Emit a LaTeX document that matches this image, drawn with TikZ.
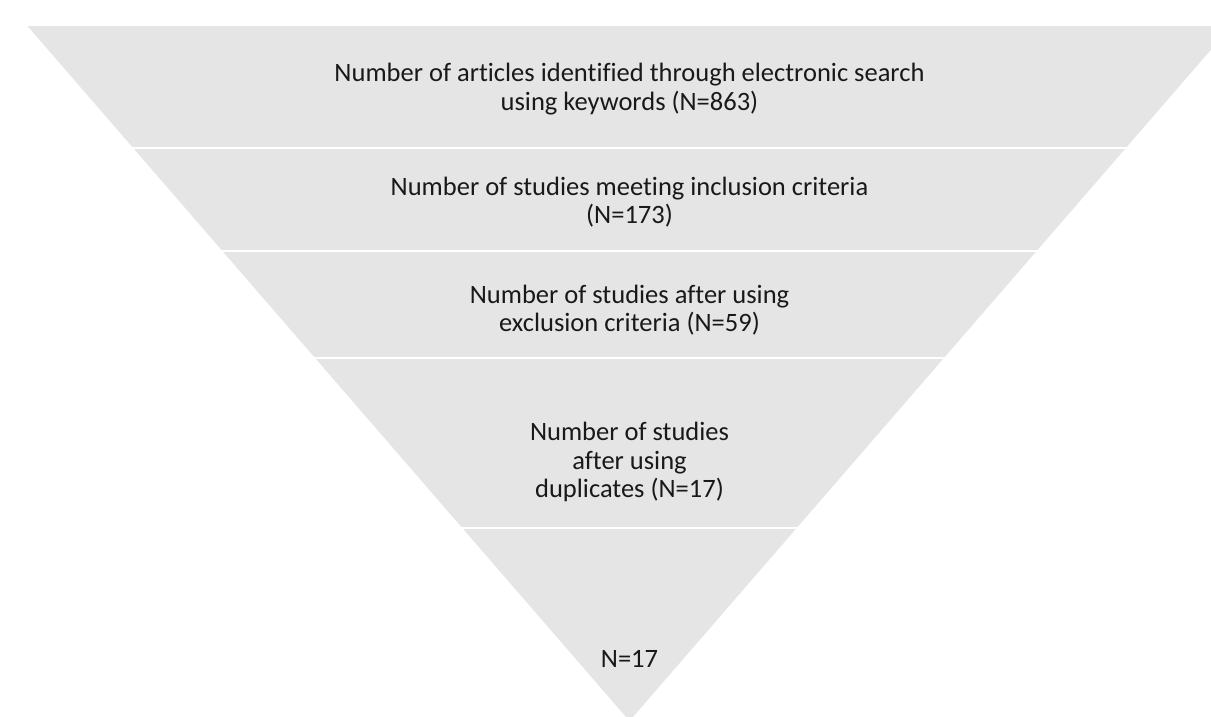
\documentclass[tikz,border=0pt]{standalone}
\usepackage{fontspec}
\setmainfont{Carlito}[Ligatures=NoCommon]
\definecolor{funnelgray}{RGB}{229,229,229}
\begin{document}
\begin{tikzpicture}
        [x=1pt, y=-1pt,
        band/.style={fill=funnelgray},
        bandgap/.style={draw=white, line width=1.5},
        bandtext/.style={align=center, text=black!90, font=\fontsize{26.5}{28.5}\selectfont}]

        \useasboundingbox (0,0) rectangle (1211,716);
        \clip (0,0) rectangle (1211,716);

        \fill [band] (27.5,26) -- (1231.5,26) -- (629.5,721) -- cycle;
        \foreach \y in {148,251,358,528}
            \draw [bandgap] (0,\y) -- (1211,\y);

        \node [bandtext] (search) at (629.5,89) {Number of articles identified through electronic search\\using keywords (N=863)};
        \node [bandtext] (inclusion) at (629.5,202) {Number of studies meeting inclusion criteria\\(N=173)};
        \node [bandtext] (exclusion) at (629.5,310) {Number of studies after using\\exclusion criteria (N=59)};
        \node [bandtext] (duplicates) at (629.5,462) {Number of studies\\after using\\duplicates (N=17)};
        \node [bandtext] (final) at (629.5,659) {N=17};
    \end{tikzpicture}
\end{document}
